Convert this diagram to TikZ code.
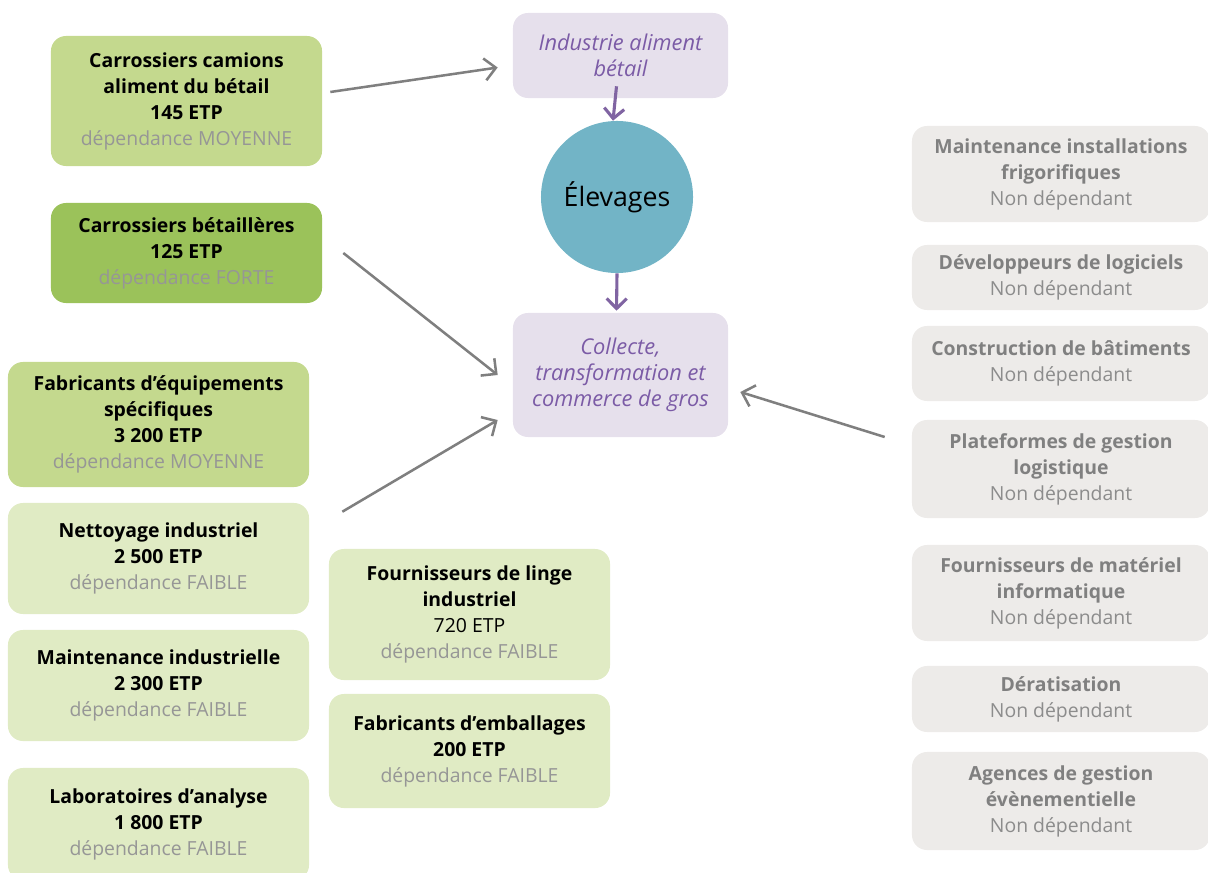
\documentclass[tikz,border=0pt]{standalone}
\usepackage{fontspec}
\setmainfont{Open Sans}
\usetikzlibrary{arrows.meta}

\definecolor{vertmoy}{HTML}{C4D98E}
\definecolor{vertfort}{HTML}{9BC25A}
\definecolor{vertpale}{HTML}{E0EBC4}
\definecolor{grisclair}{HTML}{EDEBE9}
\definecolor{grisfonce}{HTML}{808080}
\definecolor{grisdep}{HTML}{969696}
\definecolor{grisnon}{HTML}{8C8C8C}
\definecolor{mauve}{HTML}{E6E0EC}
\definecolor{violettxt}{HTML}{7B5BA6}
\definecolor{violetfl}{HTML}{8064A2}
\definecolor{bleuelev}{HTML}{72B4C6}
\definecolor{grisfleche}{HTML}{7F7F7F}

\newcommand{\boxfont}{\fontsize{13.8}{18.5}\selectfont}
\newcommand{\depend}[1]{\textcolor{grisdep}{dépendance #1}}
\newcommand{\nondep}{\textcolor{grisnon}{Non dépendant}}

\begin{document}
\begin{tikzpicture}[x=0.025cm, y=-0.025cm,
  box/.style={rectangle, rounded corners=0.375cm, align=center, inner sep=0pt, font=\boxfont},
  moy/.style={box, fill=vertmoy},
  forte/.style={box, fill=vertfort},
  faible/.style={box, fill=vertpale},
  nondp/.style={box, fill=grisclair, text=grisfonce, minimum width=7.45cm},
  secteur/.style={box, fill=mauve, text=violettxt, font=\fontsize{15.5}{18.5}\selectfont\itshape, minimum width=5.375cm},
  fleche/.style={draw=grisfleche, line width=1.8pt, -{Straight Barb[length=0.28cm,width=0.55cm]}},
  flechev/.style={draw=violetfl, line width=2.2pt, -{Straight Barb[length=0.25cm,width=0.5cm]}}
]
\useasboundingbox (0,0) rectangle (1208,873);

% Centre : filiere
\node[secteur, minimum height=2.125cm] (industrie) at (620.5,55.5) {Industrie aliment\\bétail};
\node[circle, fill=bleuelev, minimum size=3.8cm, inner sep=0pt,
      font=\fontsize{19}{22}\selectfont] (elevages) at (617,197) {Élevages};
\node[secteur, minimum height=3.1cm] (collecte) at (620.5,375) {Collecte,\\transformation et\\commerce de gros};

% Fournisseurs, colonne gauche
\node[moy, minimum width=6.775cm, minimum height=3.25cm] (camions) at (186.5,101)
  {\textbf{Carrossiers camions}\\\textbf{aliment du bétail}\\\textbf{145 ETP}\\\depend{MOYENNE}};
\node[forte, minimum width=6.775cm, minimum height=2.5cm] (betail) at (186.5,253)
  {\textbf{Carrossiers bétaillères}\\\textbf{125 ETP}\\\depend{FORTE}};
\node[moy, minimum width=7.525cm, minimum height=3.125cm] (equip) at (158.5,424.5)
  {\textbf{Fabricants d’équipements}\\\textbf{spécifiques}\\\textbf{3 200 ETP}\\\depend{MOYENNE}};
\node[faible, minimum width=7.525cm, minimum height=2.775cm] (nettoyage) at (158.5,558.5)
  {\textbf{Nettoyage industriel}\\\textbf{2 500 ETP}\\\depend{FAIBLE}};
\node[faible, minimum width=7.525cm, minimum height=2.775cm] (maintind) at (158.5,685.5)
  {\textbf{Maintenance industrielle}\\\textbf{2 300 ETP}\\\depend{FAIBLE}};
\node[faible, minimum width=7.525cm, minimum height=2.8cm] (labo) at (158.5,824)
  {\textbf{Laboratoires d’analyse}\\\textbf{1 800 ETP}\\\depend{FAIBLE}};

% Fournisseurs, colonne du milieu
\node[faible, minimum width=7.025cm, minimum height=3.275cm] (linge) at (469.5,614.5)
  {\textbf{Fournisseurs de linge}\\\textbf{industriel}\\720 ETP\\\depend{FAIBLE}};
\node[faible, minimum width=7.025cm, minimum height=2.85cm] (emball) at (469.5,751)
  {\textbf{Fabricants d’emballages}\\\textbf{200 ETP}\\\depend{FAIBLE}};

% Non dependants, colonne droite
\node[nondp, minimum height=2.4cm] (frigo) at (1061,174)
  {\textbf{Maintenance installations}\\\textbf{frigorifiques}\\\nondep};
\node[nondp, minimum height=1.625cm] (logiciel) at (1061,277.5)
  {\textbf{Développeurs de logiciels}\\\nondep};
\node[nondp, minimum height=1.875cm] (batiment) at (1061,363.5)
  {\textbf{Construction de bâtiments}\\\nondep};
\node[nondp, minimum height=2.45cm] (logist) at (1061,469)
  {\textbf{Plateformes de gestion}\\\textbf{logistique}\\\nondep};
\node[nondp, minimum height=2.4cm] (informat) at (1061,593)
  {\textbf{Fournisseurs de matériel}\\\textbf{informatique}\\\nondep};
\node[nondp, minimum height=1.65cm] (derat) at (1061,699)
  {\textbf{Dératisation}\\\nondep};
\node[nondp, minimum height=2.45cm] (evenem) at (1061,801)
  {\textbf{Agences de gestion}\\\textbf{évènementielle}\\\nondep};

% Fleches
\draw[flechev] ([xshift=-0.1cm,yshift=0.3cm]industrie.south) -- ([xshift=-0.1cm]elevages.north);
\draw[flechev] (elevages.south) -- ([xshift=-0.1cm,yshift=0.05cm]collecte.north);
\draw[fleche] ([xshift=0.2cm,yshift=0.225cm]camions.east) -- ([xshift=-0.375cm,yshift=-0.3cm]industrie.west);
\draw[fleche] ([xshift=0.525cm]betail.east) -- ([xshift=-0.375cm]collecte.west);
\draw[fleche] ([xshift=0.825cm,yshift=-0.225cm]nettoyage.north east) -- ([xshift=-0.375cm,yshift=-1.125cm]collecte.west);
\draw[fleche] ([xshift=-0.675cm,yshift=0.8cm]logist.west) -- ([xshift=0.3cm,yshift=-0.425cm]collecte.east);
\end{tikzpicture}
\end{document}
